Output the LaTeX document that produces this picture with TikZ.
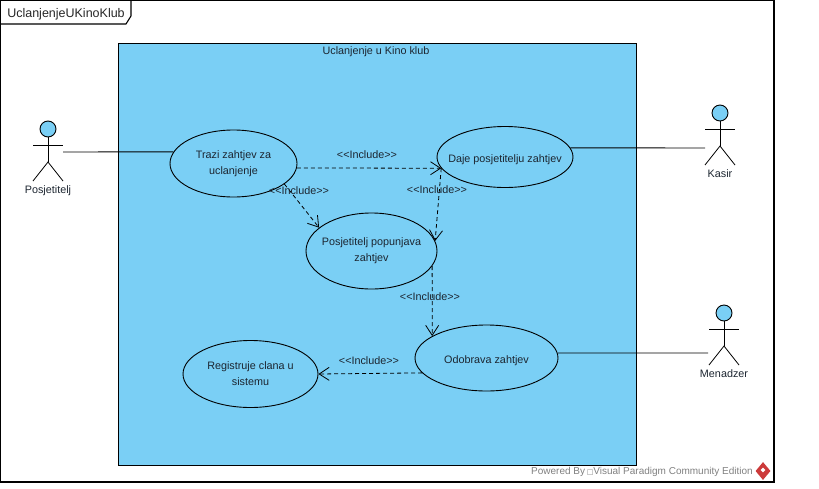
\documentclass[tikz,border=0pt]{standalone}
\usepackage{fontspec}
\setmainfont{Liberation Sans}
\newfontfamily\symbolfont{DejaVu Sans}
\usetikzlibrary{positioning,arrows.meta,shapes.geometric}
\definecolor{usecaseblue}{HTML}{7ACFF5}
\definecolor{inktext}{HTML}{1C2530}
\definecolor{logored}{HTML}{CC3A3A}
\begin{document}
\begin{tikzpicture}[
	x=1pt, y=-1pt,
	font=\fontsize{10.8pt}{16pt}\selectfont,
	text=inktext,
	usecase/.style={ellipse, draw=black, fill=usecaseblue, line width=0.9pt, inner sep=-12pt, align=center, execute at begin node={\rule{0pt}{14pt}}},
	includelabel/.style={inner sep=0pt},
	includeline/.style={densely dashed, dash pattern=on 4pt off 3pt, line width=0.8pt, -{Straight Barb[length=10pt,width=13pt,line width=0.8pt]}},
	assocline/.style={line width=0.9pt},
	actorhead/.style={circle, draw=black, fill=usecaseblue, line width=0.9pt, minimum size=16pt, inner sep=0pt},
	stickman/.pic={
		\node[actorhead] (-head) at (0,0) {};
		\draw[line width=0.8pt] (-head) -- (0,33);
		\draw[line width=0.8pt] (-15,16) -- (15,16);
		\draw[line width=0.8pt] (-15,52) -- (0,33) -- (15,52);
	},
	]
	\useasboundingbox (0,0) rectangle (819,488);
	%Frame
	\draw[line width=1.2pt] (0.5,0.5) rectangle (774,482);
	\draw[line width=1.1pt] (0.5,24) -- (126,24) -- (131,16) -- (131,0.5);
	\node[inner sep=0pt, text=black!85, font=\fontsize{12.5pt}{14pt}\selectfont] (diagramname) at (66,14.5) {UclanjenjeUKinoKlub};
	
	%System
	\node[rectangle, draw=black, fill=usecaseblue, line width=0.9pt, minimum width=518pt, minimum height=422pt, inner sep=0pt] (system) at (377,254) {};
	\node[inner sep=0pt] (systemname) at (376,52) {Uclanjenje u Kino klub};
	
	%Nodes
	\node[usecase, minimum width=127pt, minimum height=67pt] (trazi) at (233.5,163.5) {Trazi zahtjev za\\uclanjenje};
	\node[usecase, minimum width=136pt, minimum height=61pt] (daje) at (505,157) {Daje posjetitelju zahtjev};
	\node[usecase, minimum width=131pt, minimum height=76pt] (popunjava) at (371.5,251) {Posjetitelj popunjava\\zahtjev};
	\node[usecase, minimum width=143pt, minimum height=66pt] (odobrava) at (486.5,358) {Odobrava zahtjev};
	\node[usecase, minimum width=135pt, minimum height=67pt] (registruje) at (250.5,374) {Registruje clana u\\sistemu};
	
	%Actors
	\pic (posjetitelj) at (48,129) {stickman};
	\pic (kasir) at (720,113) {stickman};
	\pic (menadzer) at (724,313) {stickman};
	\node[inner sep=0pt] (posjetiteljname) at (48,191) {Posjetitelj};
	\node[inner sep=0pt] (kasirname) at (720,174) {Kasir};
	\node[inner sep=0pt] (menadzername) at (724,374) {Menadzer};
	\coordinate (posjetiteljhand) at (63,152);
	\coordinate (kasirhand) at (705,148);
	\coordinate (menadzerhand) at (708,353);
	
	%Lines
	\draw[assocline] (posjetiteljhand) -- (trazi.169);
	\draw[assocline] (daje.8) -- (kasirhand);
	\draw[assocline] (odobrava.4) -- (menadzerhand);
	\draw[includeline] (trazi.-4) -- (daje.190);
	\draw[includeline] (trazi.-22) -- (popunjava.156);
	\draw[includeline] (daje.190) -- (popunjava.9);
	\draw[includeline] (popunjava.-14) -- (odobrava.158);
	\draw[includeline] (odobrava.193) -- (registruje.east);
	
	%Labels
	\node[includelabel] (include1) at (367,155) {<{}<Include>{}>};
	\node[includelabel] (include2) at (299,191) {<{}<Include>{}>};
	\node[includelabel] (include3) at (437,190) {<{}<Include>{}>};
	\node[includelabel] (include4) at (430,297) {<{}<Include>{}>};
	\node[includelabel] (include5) at (369,361) {<{}<Include>{}>};
	
	%Watermark
	\node[inner sep=0pt, text=black!50, anchor=west, font=\fontsize{10pt}{12pt}\selectfont] (poweredby) at (531,472) {Powered By\,{\symbolfont\fontsize{7pt}{8pt}\selectfont □}Visual Paradigm Community Edition};
	\node[diamond, fill=logored, minimum width=15pt, minimum height=18pt, inner sep=0pt] (vplogo) at (763,471) {};
	\node[diamond, fill=white, minimum size=5pt, inner sep=0pt] (vplogoinner) at (763,470) {};
\end{tikzpicture}
\end{document}
